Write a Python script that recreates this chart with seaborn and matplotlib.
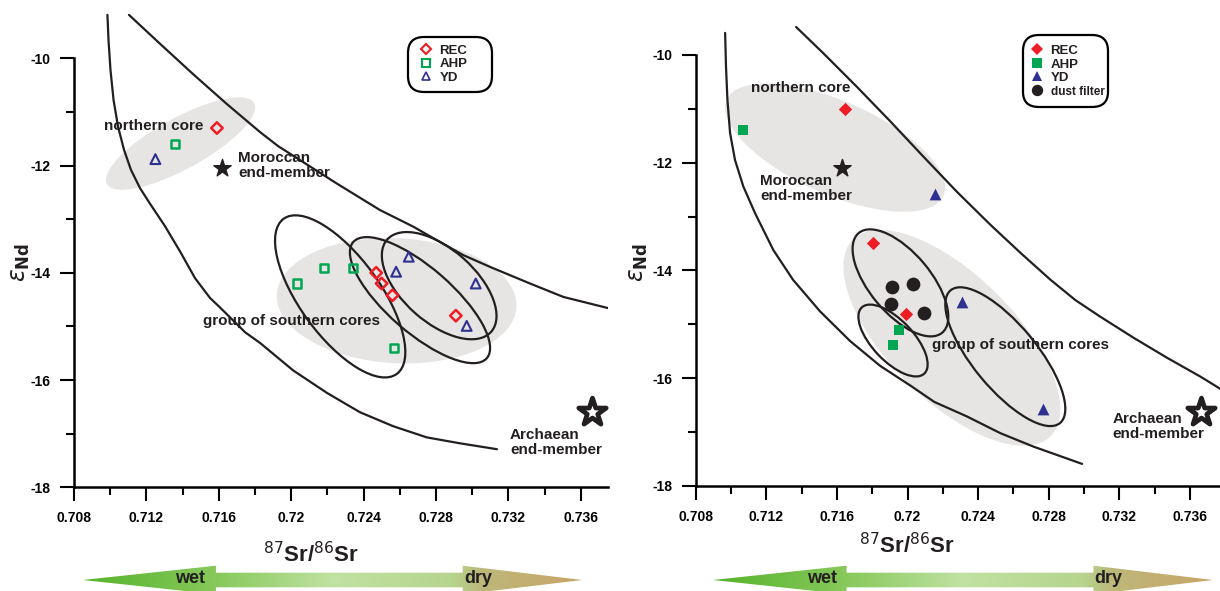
import numpy as np
import matplotlib
matplotlib.use("Agg")
import matplotlib.pyplot as plt
import seaborn as sns
from matplotlib.patches import Ellipse, Polygon
from matplotlib.transforms import ScaledTranslation
from matplotlib.lines import Line2D
from matplotlib.colors import LinearSegmentedColormap

# ------------------------------------------------------------------ data
# panel A (open symbols)
a_rec_x = [0.7159, 0.7247, 0.7250, 0.7256, 0.7291]
a_rec_y = [-11.30, -14.00, -14.20, -14.42, -14.80]
a_ahp_x = [0.7136, 0.7203, 0.7218, 0.7234, 0.7257]
a_ahp_y = [-11.60, -14.20, -13.91, -13.91, -15.40]
a_yd_x = [0.7125, 0.7258, 0.7265, 0.7302, 0.7297]
a_yd_y = [-11.88, -13.98, -13.70, -14.20, -14.99]

# panel B (filled symbols)
b_rec_x = [0.71647, 0.71807, 0.71991]
b_rec_y = [-11.00, -13.49, -14.81]
b_ahp_x = [0.7107, 0.71951, 0.71917]
b_ahp_y = [-11.39, -15.10, -15.39]
b_yd_x = [0.72157, 0.72308, 0.72766]
b_yd_y = [-12.58, -14.58, -16.57]
b_dust_x = [0.71915, 0.72031, 0.71908, 0.72091]
b_dust_y = [-14.30, -14.25, -14.63, -14.79]

# end-members
a_moroccan = (0.71617, -12.05)
a_archaean = (0.73664, -16.59)
b_moroccan = (0.71628, -12.10)
b_archaean = (0.73663, -16.62)

# mixing envelopes (nan = break under a label)
a_mix1_x = [0.70985, 0.70991, 0.71002, 0.71019, 0.71044, 0.71077, 0.71115, 0.71165,
            0.71220, 0.71303, 0.71386, 0.71469, 0.71552, 0.71602, np.nan,
            0.71746, 0.71829, 0.72011, 0.72198, 0.72380, 0.72563, 0.72750, 0.72933, 0.73137]
a_mix1_y = [-9.19, -9.66, -10.22, -10.78, -11.28, -11.71, -12.08, -12.42,
            -12.71, -13.13, -13.60, -14.10, -14.47, -14.63, np.nan,
            -15.11, -15.31, -15.82, -16.24, -16.60, -16.86, -17.07, -17.18, -17.29]
a_mix2_x = [0.71104, 0.71276, 0.71460, 0.71644, 0.71828, 0.71929, np.nan,
            0.72250, 0.72491, 0.72675, 0.72804, 0.72951, 0.73099, 0.73320, 0.73504, 0.73753]
a_mix2_y = [-9.19, -9.73, -10.30, -10.85, -11.375, -11.64, np.nan,
            -12.33, -12.83, -13.14, -13.39, -13.67, -13.89, -14.20, -14.45, -14.66]
b_mix1_x = [0.70967, 0.70972, 0.70980, 0.70995, 0.71023, 0.71070, 0.71137, 0.71240,
            0.71351, 0.71505, 0.71675, 0.71845, 0.72018, 0.72152, 0.72337, 0.72526,
            0.72714, 0.72989]
b_mix1_y = [-9.59, -10.22, -10.83, -11.45, -11.95, -12.44, -12.94, -13.62,
            -14.17, -14.76, -15.31, -15.77, -16.14, -16.44, -16.71, -17.02,
            -17.27, -17.59]
b_mix2_x = [0.71369, 0.71524, 0.71713, 0.71902, 0.72091, 0.72280, 0.72469, 0.72639,
            0.72809, 0.72951, 0.73093, 0.73281, 0.73470, 0.73659, 0.73773]
b_mix2_y = [-9.48, -9.97, -10.59, -11.23, -11.89, -12.54, -13.15, -13.67,
            -14.17, -14.55, -14.86, -15.25, -15.62, -15.97, -16.20]

# group envelopes: centre (data), width/height (px), angle (deg)
a_groups_fill = [(0.71389, -11.59, 168, 51, 28.8), (0.72583, -14.52, 240, 125, -3)]
a_groups_line = [(0.72271, -14.44, 192, 80, -53.9), (0.72712, -14.51, 177, 65, -41.0),
                 (0.72818, -14.24, 139, 73, -41.6)]
b_groups_fill = [(0.71590, -11.72, 237, 93, -23.9), (0.72251, -15.25, 279, 126, -44.8)]
b_groups_line = [(0.71960, -14.23, 130, 61, -50.0), (0.71918, -15.30, 91, 41, -46.6),
                 (0.72554, -15.60, 172, 64, -50.5)]

x_major = [0.708, 0.712, 0.716, 0.720, 0.724, 0.728, 0.732, 0.736]
x_labels = ["0.708", "0.712", "0.716", "0.72", "0.724", "0.728", "0.732", "0.736"]
x_minor = [0.710, 0.714, 0.718, 0.722, 0.726, 0.730, 0.734]
y_major = [-10, -12, -14, -16, -18]
y_labels = ["-10", "-12", "-14", "-16", "-18"]
y_minor = [-11, -13, -15, -17]

# ------------------------------------------------------------------ style
sns.set_theme(style="ticks")
MAIN = ["Liberation Sans", "DejaVu Sans"]
NARROW = ["Liberation Sans Narrow", "Liberation Sans", "DejaVu Sans"]
plt.rcParams["font.family"] = MAIN
plt.rcParams["mathtext.fontset"] = "dejavusans"

RED, GREEN, BLUE, DARK = "#ee1c24", "#00a651", "#2e3192", "#231f20"
GREY = "#e6e5e3"

fig = plt.figure(figsize=(12.2, 5.91), dpi=100)
fig.patch.set_facecolor("white")

# gradient arrows (drawn first, in a figure-wide overlay)
ov = fig.add_axes([0, 0, 1, 1])
ov.set_xlim(0, 1)
ov.set_ylim(0, 1)
ov.axis("off")
cmap = LinearSegmentedColormap.from_list(
    "wetdry", [(0, "#55b32b"), (0.27, "#88c95c"), (0.5, "#c0e2a2"),
               (0.74, "#b6d48d"), (0.8, "#bdb879"), (1, "#c9a468")])
for xl, hl, hr, xr, w_x, d_x in [(0.0679, 0.1770, 0.3793, 0.4773, 0.156, 0.392),
                                 (0.5844, 0.6939, 0.8963, 0.9942, 0.674, 0.908)]:
    yc, hh, sh = 0.0186, 0.0242, 0.0124
    pts = [(xl, yc), (hl, yc + hh), (hl, yc + sh), (hr, yc + sh), (hr, yc + hh), (xr, yc),
           (hr, yc - hh), (hr, yc - sh), (hl, yc - sh), (hl, yc - hh)]
    poly = Polygon(pts, closed=True, fc="none", ec="none", transform=ov.transAxes)
    ov.add_patch(poly)
    im = ov.imshow(np.linspace(0, 1, 256)[None, :], extent=(xl, xr, yc - hh, yc + hh),
                   cmap=cmap, aspect="auto", origin="lower")
    im.set_clip_path(poly)
    ov.text(w_x, yc + 0.003, "wet", ha="center", va="center", fontsize=13,
            family=NARROW, weight="bold", color=DARK)
    ov.text(d_x, yc + 0.003, "dry", ha="center", va="center", fontsize=13,
            family=NARROW, weight="bold", color=DARK)

ax_a = fig.add_axes([0.0606, 0.1755, 0.4378, 0.8075])
ax_b = fig.add_axes([0.5702, 0.1777, 0.4298, 0.8113])


def envelope(ax, spec, filled):
    cx, cy, w, h, ang = spec
    tr = fig.dpi_scale_trans + ScaledTranslation(cx, cy, ax.transData)
    if filled:
        e = Ellipse((0, 0), w / 100, h / 100, angle=ang, transform=tr,
                    fc=GREY, ec="none", zorder=1)
    else:
        e = Ellipse((0, 0), w / 100, h / 100, angle=ang, transform=tr,
                    fc="none", ec=DARK, lw=1.6, zorder=3)
    ax.add_patch(e)


def points(ax, x, y, marker, s, color, filled, lw=1.8):
    sns.scatterplot(x=x, y=y, ax=ax, marker=marker, s=s, color=color,
                    facecolor=color if filled else "none", edgecolor=color,
                    linewidth=lw if not filled else 0, zorder=6, legend=False)


def label(ax, x, y, txt, ha="left"):
    ax.text(x, y, txt, ha=ha, va="center", fontsize=11, weight="bold",
            color=DARK, linespacing=1.1, zorder=4)


def end_members(ax, moroccan, archaean):
    ax.scatter(*moroccan, marker="*", s=170, color=DARK, zorder=6)
    ax.scatter(*archaean, marker="*", s=430, facecolor="white", edgecolor=DARK,
               linewidth=3.4, zorder=6)


# ---------------- panel A
for spec in a_groups_fill:
    envelope(ax_a, spec, True)
for spec in a_groups_line:
    envelope(ax_a, spec, False)
sns.lineplot(x=a_mix1_x, y=a_mix1_y, ax=ax_a, color=DARK, lw=1.6, sort=False,
             estimator=None, zorder=3)
sns.lineplot(x=a_mix2_x, y=a_mix2_y, ax=ax_a, color=DARK, lw=1.6, sort=False,
             estimator=None, zorder=3)
points(ax_a, a_rec_x, a_rec_y, "D", 34, RED, False)
points(ax_a, a_ahp_x, a_ahp_y, "s", 34, GREEN, False)
points(ax_a, a_yd_x, a_yd_y, "^", 50, BLUE, False, lw=1.5)
end_members(ax_a, a_moroccan, a_archaean)
label(ax_a, 0.71515, -11.26, "northern core", ha="right")
label(ax_a, 0.71708, -12.00, "Moroccan\nend-member")
label(ax_a, 0.71512, -14.90, "group of southern cores")
label(ax_a, 0.73209, -17.16, "Archaean\nend-member")

# ---------------- panel B
for spec in b_groups_fill:
    envelope(ax_b, spec, True)
for spec in b_groups_line:
    envelope(ax_b, spec, False)
sns.lineplot(x=b_mix1_x, y=b_mix1_y, ax=ax_b, color=DARK, lw=1.6, sort=False,
             estimator=None, zorder=3)
sns.lineplot(x=b_mix2_x, y=b_mix2_y, ax=ax_b, color=DARK, lw=1.6, sort=False,
             estimator=None, zorder=3)
points(ax_b, b_rec_x, b_rec_y, "D", 46, RED, True)
points(ax_b, b_ahp_x, b_ahp_y, "s", 60, GREEN, True)
points(ax_b, b_yd_x, b_yd_y, "^", 72, BLUE, True)
points(ax_b, b_dust_x, b_dust_y, "o", 98, DARK, True)
end_members(ax_b, b_moroccan, b_archaean)
label(ax_b, 0.71114, -10.62, "northern core")
label(ax_b, 0.71165, -12.48, "Moroccan\nend-member")
label(ax_b, 0.72138, -15.38, "group of southern cores")
label(ax_b, 0.73159, -16.89, "Archaean\nend-member")


# ---------------- legends (rounded box, expanded to a fixed width)
def rounded_legend(ax, entries, box, borderpad, hlen, tpad):
    handles = [Line2D([], [], ls="none", marker=m, ms=ms, mfc=fc, mec=ec, mew=mew)
               for (_, m, ms, fc, ec, mew, _) in entries]
    labels = [e[0] for e in entries]
    leg = ax.legend(handles, labels, loc="upper left", bbox_to_anchor=box, mode="expand",
                    frameon=True, fancybox=True, handlelength=hlen, handletextpad=tpad,
                    labelspacing=0.1, borderpad=borderpad, borderaxespad=0,
                    prop=dict(family=MAIN, weight="bold", size=9.5))
    fr = leg.get_frame()
    fr.set_edgecolor("black")
    fr.set_linewidth(1.6)
    fr.set_facecolor("white")
    fr.set_alpha(1)
    fr.set_boxstyle("round,pad=0,rounding_size=1.2")
    for t, e in zip(leg.get_texts(), entries):
        t.set_color(DARK)
        t.set_fontsize(e[6])
    leg.set_zorder(10)


rounded_legend(ax_a, [("REC", "D", 5.2, "none", RED, 1.5, 9.5),
                      ("AHP", "s", 5.6, "none", GREEN, 1.5, 9.5),
                      ("YD", "^", 6.2, "none", BLUE, 1.2, 9.5)],
               (0.625, 0.7442, 0.158, 0.2), 0.6, 1.5, 0.3)
rounded_legend(ax_b, [("REC", "D", 6.3, RED, RED, 0, 9.5),
                      ("AHP", "s", 6.8, GREEN, GREEN, 0, 9.5),
                      ("YD", "^", 7.2, BLUE, BLUE, 0, 9.5),
                      ("dust filter", "o", 8.2, DARK, DARK, 0, 8.5)],
               (0.6243, 0.7406, 0.162, 0.2), 0.74, 0.6, 0.75)

# ---------------- axes cosmetics
for ax, xmax, ylab_xy, xlab_xy in [(ax_a, 0.73751, (-0.078, 0.472), (0.444, -0.114)),
                                   (ax_b, 0.7377, (-0.088, 0.467), (0.404, -0.099))]:
    ax.set_facecolor("none")
    ax.set_xlim(0.708, xmax)
    ax.set_ylim(-18, -9.1)
    ax.set_xticks(x_major)
    ax.set_xticklabels(x_labels)
    ax.set_xticks(x_minor, minor=True)
    ax.set_yticks(y_major)
    ax.set_yticklabels(y_labels)
    ax.set_yticks(y_minor, minor=True)
    ax.tick_params(which="major", length=10, width=1.5, direction="out", pad=7,
                   color="black", labelcolor="black", labelsize=10)
    ax.tick_params(which="minor", length=5.5, width=1.5, direction="out", color="black")
    sns.despine(ax=ax)
    ax.spines["left"].set_bounds(-18, -10)
    ax.spines["bottom"].set_bounds(0.708, xmax)
    for sp in ("left", "bottom"):
        ax.spines[sp].set_linewidth(1.8)
        ax.spines[sp].set_color("black")
    for lab in ax.get_xticklabels() + ax.get_yticklabels():
        lab.set_fontweight("bold")
        lab.set_family(NARROW)
    ax.set_xlabel(r"$^{\mathrm{87}}$Sr/$^{\mathrm{86}}$Sr", fontsize=16,
                  family=NARROW, weight="bold", color=DARK)
    ax.xaxis.set_label_coords(*xlab_xy)
    ax.set_ylabel(r"$\varepsilon_{\mathbf{Nd}}$", fontsize=17, color=DARK)
    ax.yaxis.set_label_coords(*ylab_xy)

fig.savefig("out.png", dpi=100, facecolor="white")
